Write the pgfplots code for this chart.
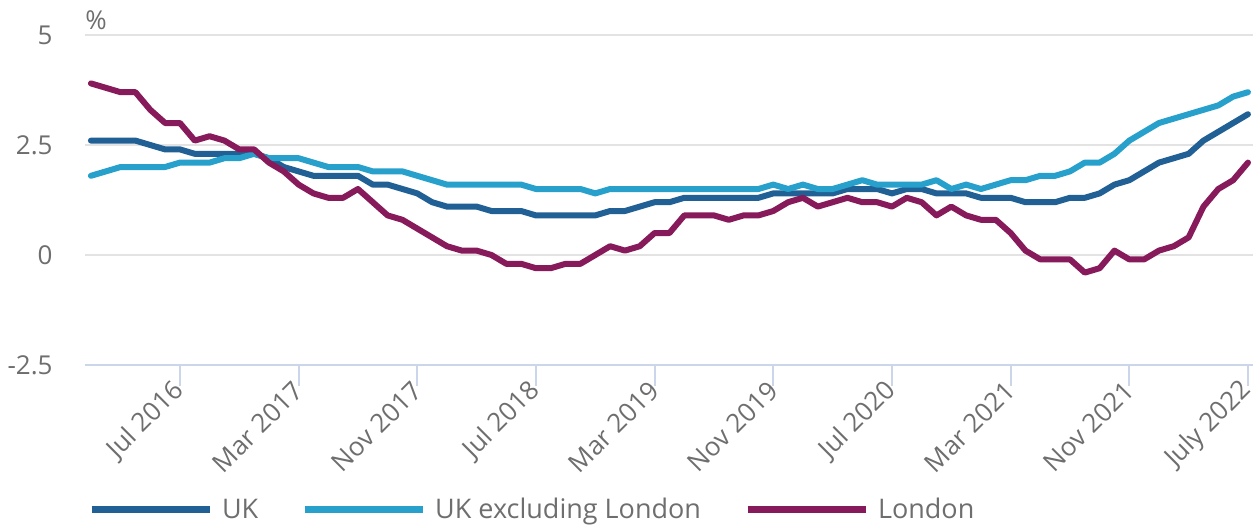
\documentclass[border=0pt]{standalone}
\usepackage{pgfplots}
\pgfplotsset{compat=1.18}
\usepackage{pgfplotstable}
\usepackage{fontspec}
\setmainfont{Open Sans}
\definecolor{ukblue}{HTML}{206095}
\definecolor{exblue}{HTML}{27A0CC}
\definecolor{ldn}{HTML}{871A5B}
\definecolor{gridc}{HTML}{E3E3E3}
\definecolor{axc}{HTML}{CCD6EA}
\definecolor{txt}{HTML}{6E6E6E}
\pgfplotstableread{
m uk ukex ldn
0 2.6 1.8 3.9
1 2.6 1.9 3.8
2 2.6 2.0 3.7
3 2.6 2.0 3.7
4 2.5 2.0 3.3
5 2.4 2.0 3.0
6 2.4 2.1 3.0
7 2.3 2.1 2.6
8 2.3 2.1 2.7
9 2.3 2.2 2.6
10 2.3 2.2 2.4
11 2.3 2.3 2.4
12 2.2 2.2 2.1
13 2.0 2.2 1.9
14 1.9 2.2 1.6
15 1.8 2.1 1.4
16 1.8 2.0 1.3
17 1.8 2.0 1.3
18 1.8 2.0 1.5
19 1.6 1.9 1.2
20 1.6 1.9 0.9
21 1.5 1.9 0.8
22 1.4 1.8 0.6
23 1.2 1.7 0.4
24 1.1 1.6 0.2
25 1.1 1.6 0.1
26 1.1 1.6 0.1
27 1.0 1.6 0.0
28 1.0 1.6 -0.2
29 1.0 1.6 -0.2
30 0.9 1.5 -0.3
31 0.9 1.5 -0.3
32 0.9 1.5 -0.2
33 0.9 1.5 -0.2
34 0.9 1.4 0.0
35 1.0 1.5 0.2
36 1.0 1.5 0.1
37 1.1 1.5 0.2
38 1.2 1.5 0.5
39 1.2 1.5 0.5
40 1.3 1.5 0.9
41 1.3 1.5 0.9
42 1.3 1.5 0.9
43 1.3 1.5 0.8
44 1.3 1.5 0.9
45 1.3 1.5 0.9
46 1.4 1.6 1.0
47 1.4 1.5 1.2
48 1.4 1.6 1.3
49 1.4 1.5 1.1
50 1.4 1.5 1.2
51 1.5 1.6 1.3
52 1.5 1.7 1.2
53 1.5 1.6 1.2
54 1.4 1.6 1.1
55 1.5 1.6 1.3
56 1.5 1.6 1.2
57 1.4 1.7 0.9
58 1.4 1.5 1.1
59 1.4 1.6 0.9
60 1.3 1.5 0.8
61 1.3 1.6 0.8
62 1.3 1.7 0.5
63 1.2 1.7 0.1
64 1.2 1.8 -0.1
65 1.2 1.8 -0.1
66 1.3 1.9 -0.1
67 1.3 2.1 -0.4
68 1.4 2.1 -0.3
69 1.6 2.3 0.1
70 1.7 2.6 -0.1
71 1.9 2.8 -0.1
72 2.1 3.0 0.1
73 2.2 3.1 0.2
74 2.3 3.2 0.4
75 2.6 3.3 1.1
76 2.8 3.4 1.5
77 3.0 3.6 1.7
78 3.2 3.7 2.1
}\data
\begin{document}
\begin{tikzpicture}
\path[use as bounding box] (0,0) rectangle (628.5pt,264.5pt);
\begin{axis}[
  at={(42.5pt,82pt)}, anchor=south west,
  scale only axis, width=584pt, height=165pt,
  xmin=-0.4, xmax=78.34, ymin=-2.5, ymax=5,
  clip=false,
  font=\fontsize{13}{15}\selectfont,
  axis x line*=bottom, axis y line*=left,
  y axis line style={draw=none},
  x axis line style={draw=axc, line width=1pt},
  xtick={6,14,22,30,38,46,54,62,70,78},
  xticklabels={Jul 2016,Mar 2017,Nov 2017,Jul 2018,Mar 2019,Nov 2019,Jul 2020,Mar 2021,Nov 2021,July 2022},
  xtick style={draw=axc, line width=1pt},
  tick align=outside, major tick length=10.5pt,
  xticklabel style={rotate=45, anchor=east, inner sep=0pt, text=txt},
  ytick={-2.5,0,2.5,5},
  yticklabels={-2.5,0,2.5,5},
  ytick style={draw=none},
  yticklabel style={anchor=east, inner sep=0pt, text=txt, xshift=-5.5pt},
  ymajorgrids, grid style={draw=gridc, line width=1pt},
  legend columns=3,
  legend image code/.code={\draw[#1, line width=3.5pt, line cap=butt] (0pt,0pt) -- (59pt,0pt);},
  legend style={at={(0,0)}, anchor=west, xshift=1.5pt, yshift=-72.5pt,
    draw=none, fill=none, inner sep=0pt, outer sep=0pt,
    font=\fontsize{13.5}{15}\selectfont, text=txt,
    nodes={inner sep=0pt},
    /tikz/every odd column/.append style={column sep=4.5pt},
    /tikz/every even column/.append style={column sep=21.5pt}},
  every axis plot/.append style={line width=3pt, line join=round, line cap=round},
]
\addplot[ukblue] table[x=m,y=uk]{\data};
\addlegendentry{UK}
\addplot[exblue] table[x=m,y=ukex]{\data};
\addlegendentry{UK excluding London}
\addplot[ldn] table[x=m,y=ldn]{\data};
\addlegendentry{London}
\node[anchor=south west, inner sep=0pt, text=txt, font=\fontsize{13}{15}\selectfont] at (rel axis cs:0,1) [yshift=2.5pt] {\%};
\end{axis}
\end{tikzpicture}
\end{document}
